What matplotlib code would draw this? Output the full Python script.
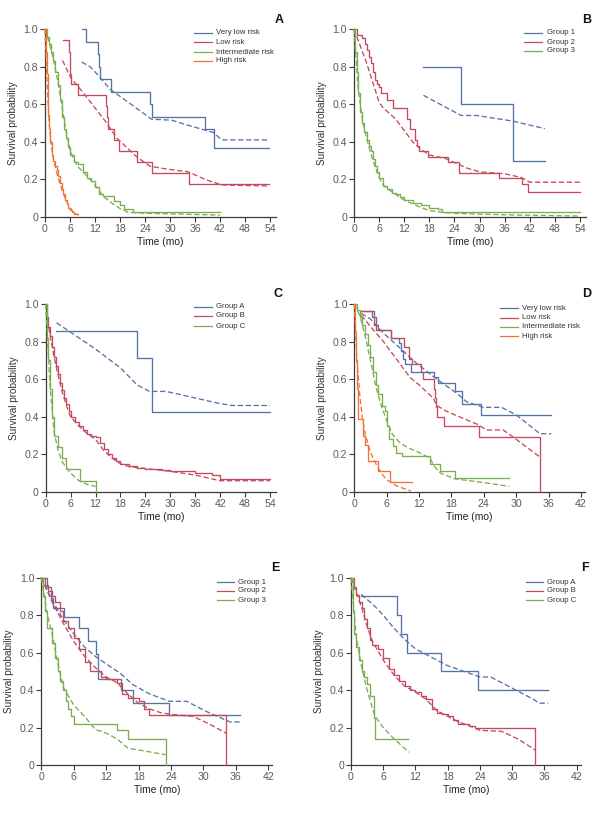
import matplotlib
matplotlib.use("Agg")
import matplotlib.pyplot as plt
from matplotlib.lines import Line2D

plt.rcParams['font.family'] = ['Liberation Sans Narrow', 'Liberation Sans', 'DejaVu Sans']

BLUE = '#5673a6'
RED = '#c44a5e'
GREEN = '#7aae4f'
ORANGE = '#f07236'

# ---------------- Panel A ----------------
A_vlow_t = [8.8, 9.8, 12.6, 13.0, 13.3, 15.8, 25.2, 25.6, 38.4, 40.6, 53.8]
A_vlow_s = [1.0, 0.933, 0.867, 0.80, 0.733, 0.667, 0.60, 0.533, 0.467, 0.367, 0.367]
A_vlow_fit_t = [8.8, 10.8, 12.5, 15.6, 20, 25.6, 30.4, 34, 40.4, 42.4, 53.8]
A_vlow_fit_s = [0.824, 0.80, 0.76, 0.68, 0.61, 0.52, 0.515, 0.49, 0.45, 0.41, 0.41]
A_low_t = [4.4, 5.8, 6.0, 6.1, 6.2, 8.0, 14.6, 14.9, 15.2, 16.6, 17.8, 22.0, 25.6, 34.6, 53.8]
A_low_s = [0.94, 0.88, 0.82, 0.76, 0.71, 0.65, 0.59, 0.53, 0.47, 0.41, 0.35, 0.29, 0.235, 0.175, 0.175]
A_low_fit_t = [4.2, 6.2, 9.2, 12, 14.8, 17.2, 22, 25.2, 29.2, 34.4, 38.4, 42.4, 53.8]
A_low_fit_s = [0.833, 0.74, 0.66, 0.58, 0.50, 0.42, 0.32, 0.27, 0.255, 0.24, 0.20, 0.17, 0.165]
A_int_t = [0, 0.5, 1, 1.5, 2, 2.5, 3, 3.5, 4, 4.5, 5, 5.5, 6, 7, 8, 9, 10, 11, 12, 13, 14,
           16.5, 18, 19, 21, 42]
A_int_s = [1.0, 0.96, 0.92, 0.88, 0.83, 0.77, 0.70, 0.62, 0.53, 0.47, 0.42, 0.37, 0.33, 0.29,
           0.28, 0.24, 0.21, 0.19, 0.16, 0.125, 0.11, 0.085, 0.065, 0.045, 0.025, 0.025]
A_int_fit_t = [0, 1, 2, 3, 4, 5, 6, 7, 8, 10, 12, 14, 16, 18, 20, 24, 30, 42]
A_int_fit_s = [1.0, 0.93, 0.84, 0.73, 0.60, 0.46, 0.36, 0.30, 0.265, 0.22, 0.17, 0.11, 0.075,
               0.045, 0.025, 0.02, 0.017, 0.01]
A_high_t = [0, 0.2, 0.4, 0.6, 0.8, 1.0, 1.3, 1.6, 2.0, 2.4, 2.8, 3.2, 3.6, 4.0, 4.4, 4.8,
            5.2, 5.6, 6.0, 6.5, 7.0, 8.0]
A_high_s = [1.0, 0.88, 0.76, 0.62, 0.54, 0.47, 0.40, 0.33, 0.30, 0.27, 0.25, 0.22, 0.18, 0.15,
            0.12, 0.09, 0.07, 0.05, 0.035, 0.025, 0.015, 0.015]
A_high_fit_t = [0, 0.5, 1, 1.5, 2, 3, 4, 5, 6, 7, 8]
A_high_fit_s = [1.0, 0.72, 0.50, 0.38, 0.31, 0.22, 0.15, 0.09, 0.05, 0.02, 0.01]

# ---------------- Panel B ----------------
B_g1_t = [16.6, 25.6, 38.0, 45.6]
B_g1_s = [0.80, 0.60, 0.30, 0.30]
B_g1_fit_t = [16.6, 25.6, 29.3, 38, 45.6]
B_g1_fit_s = [0.647, 0.54, 0.54, 0.51, 0.47]
B_g2_t = [0, 0.7, 2.0, 2.6, 3.0, 3.5, 4.0, 4.5, 5.0, 5.5, 6.0, 6.5, 8.0, 9.3, 12.7, 13.3,
          14.5, 15.0, 15.5, 17.8, 22.5, 25.0, 34.6, 40.2, 41.5, 54]
B_g2_s = [1.0, 0.97, 0.95, 0.92, 0.89, 0.85, 0.82, 0.77, 0.73, 0.71, 0.69, 0.66, 0.62, 0.58,
          0.52, 0.47, 0.41, 0.38, 0.35, 0.32, 0.29, 0.235, 0.205, 0.175, 0.135, 0.135]
B_g2_fit_t = [0, 1, 2, 3, 4, 5, 6, 7, 8, 10, 12, 14, 16, 18, 20, 22, 24, 27, 30, 36, 40, 42, 54]
B_g2_fit_s = [1.0, 0.94, 0.88, 0.82, 0.75, 0.68, 0.61, 0.58, 0.56, 0.52, 0.46, 0.40, 0.36,
              0.33, 0.32, 0.31, 0.29, 0.26, 0.24, 0.23, 0.21, 0.185, 0.185]
B_g3_t = [0, 0.3, 0.6, 1.0, 1.5, 2.0, 2.5, 3, 3.5, 4, 4.5, 5, 5.5, 6, 7, 8, 9, 10, 11, 12,
          14, 16, 18, 20, 21, 54]
B_g3_s = [1.0, 0.88, 0.77, 0.66, 0.56, 0.50, 0.45, 0.41, 0.38, 0.35, 0.31, 0.27, 0.24, 0.21,
          0.165, 0.15, 0.13, 0.12, 0.105, 0.09, 0.075, 0.065, 0.05, 0.04, 0.025, 0.025]
B_g3_fit_t = [0, 1, 2, 3, 4, 5, 6, 7, 8, 10, 12, 14, 16, 18, 21, 24, 30, 40, 54]
B_g3_fit_s = [1.0, 0.68, 0.52, 0.42, 0.34, 0.27, 0.21, 0.17, 0.15, 0.12, 0.09, 0.07, 0.05,
              0.035, 0.025, 0.02, 0.015, 0.01, 0.005]

# ---------------- Panel C ----------------
C_A_t = [2.6, 22.0, 25.7, 54]
C_A_s = [0.857, 0.714, 0.428, 0.428]
C_A_fit_t = [2.6, 6, 12, 18, 22, 25, 29, 36, 42, 45, 54]
C_A_fit_s = [0.90, 0.85, 0.76, 0.66, 0.57, 0.535, 0.535, 0.50, 0.47, 0.46, 0.46]
C_B_t = [0, 0.3, 0.6, 1, 1.5, 2, 2.5, 3, 3.5, 4, 4.5, 5, 5.5, 6, 7, 8, 9, 10, 11, 12, 13, 14,
         15, 16, 17, 18, 20, 22, 24, 26, 28, 30, 35, 36, 39, 40, 42, 54]
C_B_s = [1.0, 0.93, 0.88, 0.83, 0.77, 0.72, 0.67, 0.63, 0.58, 0.54, 0.50, 0.47, 0.43, 0.40,
         0.37, 0.35, 0.33, 0.31, 0.30, 0.29, 0.26, 0.23, 0.20, 0.18, 0.165, 0.15, 0.14, 0.13,
         0.125, 0.12, 0.115, 0.11, 0.11, 0.10, 0.10, 0.09, 0.07, 0.07]
C_B_fit_t = [0, 1, 2, 3, 4, 5, 6, 8, 10, 12, 14, 16, 18, 20, 24, 30, 36, 42, 54]
C_B_fit_s = [1.0, 0.84, 0.72, 0.62, 0.53, 0.46, 0.40, 0.35, 0.31, 0.28, 0.22, 0.18, 0.15,
             0.135, 0.125, 0.11, 0.09, 0.06, 0.06]
C_C_t = [0, 0.3, 0.6, 1.0, 1.5, 2.0, 3.0, 4.0, 5.0, 8.3, 12.0]
C_C_s = [1.0, 0.82, 0.70, 0.55, 0.40, 0.30, 0.24, 0.18, 0.12, 0.06, 0.0]
C_C_fit_t = [0, 1, 2, 3, 4, 6, 8, 10, 12]
C_C_fit_s = [1.0, 0.58, 0.32, 0.22, 0.16, 0.10, 0.06, 0.04, 0.03]

# ---------------- Panel D ----------------
D_vlow_t = [1.3, 3.6, 4.0, 4.3, 6.8, 8.2, 8.7, 9.0, 9.4, 10.5, 14.8, 15.5, 18.6, 20.0, 23.5, 36.5]
D_vlow_s = [0.964, 0.93, 0.89, 0.86, 0.82, 0.79, 0.75, 0.71, 0.68, 0.64, 0.61, 0.58, 0.535,
            0.47, 0.41, 0.41]
D_vlow_fit_t = [1.3, 3, 5.4, 8.5, 11.5, 15.3, 19, 20.8, 23.9, 27.3, 30, 34.4, 36.5]
D_vlow_fit_s = [0.95, 0.92, 0.845, 0.765, 0.685, 0.60, 0.525, 0.48, 0.45, 0.45, 0.41, 0.31, 0.31]
D_low_t = [1.3, 3.3, 3.6, 4.0, 6.8, 9.2, 10.1, 10.6, 12.3, 12.8, 14.8, 15.0, 15.2, 15.4, 16.7,
           23.1, 34.4]
D_low_s = [0.964, 0.93, 0.89, 0.86, 0.82, 0.77, 0.71, 0.68, 0.64, 0.60, 0.55, 0.50, 0.45,
           0.40, 0.35, 0.29, 0.0]
D_low_fit_t = [1.3, 3, 5.4, 8, 10.3, 12, 14.6, 15.3, 17, 22.8, 24.5, 27.6, 30, 34.2]
D_low_fit_s = [0.94, 0.88, 0.80, 0.70, 0.61, 0.57, 0.50, 0.46, 0.43, 0.36, 0.33, 0.33, 0.28, 0.19]
D_int_t = [0, 0.5, 1, 1.5, 2, 2.5, 3, 3.5, 4, 4.3, 5.1, 5.7, 6.1, 6.4, 7.1, 7.8, 8.8, 14.0,
           15.9, 18.6, 28.7]
D_int_s = [1.0, 0.97, 0.93, 0.89, 0.84, 0.78, 0.72, 0.64, 0.57, 0.52, 0.46, 0.43, 0.35, 0.28,
           0.245, 0.21, 0.19, 0.15, 0.11, 0.075, 0.075]
D_int_fit_t = [0, 1, 2, 3, 4, 5, 6, 7, 8.5, 10, 12, 14, 15, 16, 18.6, 24, 28.7]
D_int_fit_s = [1.0, 0.94, 0.83, 0.70, 0.56, 0.46, 0.38, 0.31, 0.26, 0.235, 0.21, 0.18, 0.13,
               0.10, 0.07, 0.05, 0.03]
D_high_t = [0, 0.15, 0.3, 0.5, 0.75, 1.7, 2.0, 2.6, 4.3, 6.6, 10.7]
D_high_s = [1.0, 0.85, 0.70, 0.55, 0.39, 0.30, 0.25, 0.165, 0.11, 0.055, 0.055]
D_high_fit_t = [0, 0.5, 1, 1.5, 2, 3, 4, 5, 6, 8, 10.5]
D_high_fit_s = [1.0, 0.70, 0.52, 0.39, 0.31, 0.21, 0.15, 0.10, 0.065, 0.03, 0.005]

# ---------------- Panel E ----------------
E_g1_t = [0, 1.0, 1.8, 2.2, 4.2, 7.0, 8.6, 10.2, 10.5, 14.8, 16.9, 23.7, 36.8]
E_g1_s = [1.0, 0.95, 0.89, 0.84, 0.79, 0.73, 0.66, 0.59, 0.46, 0.40, 0.33, 0.265, 0.265]
E_g1_fit_t = [0, 2, 4, 6, 8, 10, 12, 14.6, 16.9, 20, 23.7, 26.9, 30.6, 34.9, 36.8]
E_g1_fit_s = [1.0, 0.88, 0.78, 0.70, 0.63, 0.58, 0.54, 0.49, 0.43, 0.38, 0.34, 0.34, 0.285,
              0.23, 0.23]
E_g2_t = [0, 0.6, 1.2, 2, 2.6, 3.5, 4, 5, 6, 7, 8, 9, 11, 12, 14, 15, 16, 18, 19, 20, 34.2]
E_g2_s = [1.0, 0.96, 0.93, 0.90, 0.87, 0.82, 0.77, 0.73, 0.68, 0.62, 0.55, 0.50, 0.47, 0.46,
          0.44, 0.38, 0.36, 0.34, 0.30, 0.265, 0.0]
E_g2_fit_t = [0, 2, 4, 6, 8, 10, 12, 14, 16, 18, 20, 22, 24, 28, 31, 34.2]
E_g2_fit_s = [1.0, 0.87, 0.76, 0.66, 0.58, 0.52, 0.47, 0.44, 0.38, 0.33, 0.30, 0.28, 0.27,
              0.26, 0.22, 0.17]
E_g3_t = [0, 0.3, 0.6, 1.0, 2.0, 2.5, 3.0, 3.5, 4.0, 4.5, 5.0, 5.5, 6.0, 14.0, 16.0, 23.0]
E_g3_s = [1.0, 0.90, 0.82, 0.73, 0.65, 0.57, 0.50, 0.45, 0.40, 0.34, 0.30, 0.26, 0.22, 0.185,
          0.14, 0.0]
E_g3_fit_t = [0, 1, 2, 3, 4, 5, 6, 8, 10, 12, 14, 16, 20, 23]
E_g3_fit_s = [1.0, 0.82, 0.70, 0.55, 0.42, 0.37, 0.32, 0.26, 0.19, 0.17, 0.14, 0.09, 0.07, 0.055]

# ---------------- Panel F ----------------
F_A_t = [1.9, 8.5, 9.3, 10.5, 16.8, 23.7, 36.7]
F_A_s = [0.90, 0.80, 0.70, 0.60, 0.50, 0.40, 0.40]
F_A_fit_t = [1.9, 4, 6, 8, 10, 12, 14, 16, 18, 20, 22, 24, 26, 28, 30, 32, 34, 35, 36.7]
F_A_fit_s = [0.91, 0.86, 0.80, 0.73, 0.67, 0.62, 0.59, 0.56, 0.53, 0.51, 0.49, 0.47, 0.47,
             0.44, 0.41, 0.38, 0.35, 0.33, 0.33]
F_B_t = [0, 0.5, 1, 1.5, 2, 2.5, 3, 3.5, 4, 5, 6, 7, 8, 9, 10, 11, 12, 13, 14, 15, 16, 17, 18,
         19, 20, 22, 23, 24, 34.3]
F_B_s = [1.0, 0.95, 0.91, 0.87, 0.84, 0.78, 0.73, 0.67, 0.64, 0.62, 0.57, 0.51, 0.48, 0.45,
         0.42, 0.40, 0.39, 0.37, 0.35, 0.30, 0.28, 0.27, 0.26, 0.24, 0.22, 0.21, 0.20, 0.195, 0.0]
F_B_fit_t = [0, 1, 2, 3, 4, 5, 6, 8, 10, 12, 14, 16, 18, 20, 22, 24, 28, 31, 34.3]
F_B_fit_s = [1.0, 0.92, 0.84, 0.74, 0.66, 0.61, 0.56, 0.48, 0.42, 0.39, 0.35, 0.29, 0.26,
             0.23, 0.21, 0.185, 0.18, 0.14, 0.08]
F_C_t = [0, 0.3, 0.6, 1.0, 1.5, 2.0, 2.5, 3.0, 3.5, 4.3, 4.5, 10.7]
F_C_s = [1.0, 0.82, 0.70, 0.63, 0.56, 0.50, 0.47, 0.43, 0.37, 0.25, 0.14, 0.14]
F_C_fit_t = [0, 1, 2, 3, 4, 4.5, 6, 8, 10.8]
F_C_fit_s = [1.0, 0.68, 0.52, 0.40, 0.30, 0.26, 0.20, 0.14, 0.068]

W, H = 604, 816
fig = plt.figure(figsize=(W / 100, H / 100), dpi=100)


def make_axes(x0, xtick_px, xtick_max, xlim_max, top, bottom):
    scale = (xtick_px - x0) / xtick_max
    width = xlim_max * scale
    return fig.add_axes([x0 / W, 1 - bottom / H, width / W, (bottom - top) / H])


panels = [
    dict(letter='A', pos=(45, 270, 54, 55.4, 29, 217), xmax=54,
         series=[('Very low risk', BLUE, A_vlow_t, A_vlow_s, A_vlow_fit_t, A_vlow_fit_s),
                 ('Low risk', RED, A_low_t, A_low_s, A_low_fit_t, A_low_fit_s),
                 ('Intermediate risk', GREEN, A_int_t, A_int_s, A_int_fit_t, A_int_fit_s),
                 ('High risk', ORANGE, A_high_t, A_high_s, A_high_fit_t, A_high_fit_s)],
         leg=(194, 212, 216, [33, 42, 52, 61]), lab=(284, 20)),
    dict(letter='B', pos=(354, 580, 54, 55.4, 29, 217), xmax=54,
         series=[('Group 1', BLUE, B_g1_t, B_g1_s, B_g1_fit_t, B_g1_fit_s),
                 ('Group 2', RED, B_g2_t, B_g2_s, B_g2_fit_t, B_g2_fit_s),
                 ('Group 3', GREEN, B_g3_t, B_g3_s, B_g3_fit_t, B_g3_fit_s)],
         leg=(524, 542, 547, [33, 42, 51]), lab=(591, 20)),
    dict(letter='C', pos=(45.7, 270, 54, 55.4, 304, 492), xmax=54,
         series=[('Group A', BLUE, C_A_t, C_A_s, C_A_fit_t, C_A_fit_s),
                 ('Group B', RED, C_B_t, C_B_s, C_B_fit_t, C_B_fit_s),
                 ('Group C', GREEN, C_C_t, C_C_s, C_C_fit_t, C_C_fit_s)],
         leg=(194, 212, 216, [307, 316, 326]), lab=(283, 294)),
    dict(letter='D', pos=(354.3, 581, 42, 42.75, 304, 492), xmax=42,
         series=[('Very low risk', BLUE, D_vlow_t, D_vlow_s, D_vlow_fit_t, D_vlow_fit_s),
                 ('Low risk', RED, D_low_t, D_low_s, D_low_fit_t, D_low_fit_s),
                 ('Intermediate risk', GREEN, D_int_t, D_int_s, D_int_fit_t, D_int_fit_s),
                 ('High risk', ORANGE, D_high_t, D_high_s, D_high_fit_t, D_high_fit_s)],
         leg=(500, 518, 522, [308, 318, 327, 336]), lab=(591, 294)),
    dict(letter='E', pos=(41.3, 268.3, 42, 42.75, 577.7, 765), xmax=42,
         series=[('Group 1', BLUE, E_g1_t, E_g1_s, E_g1_fit_t, E_g1_fit_s),
                 ('Group 2', RED, E_g2_t, E_g2_s, E_g2_fit_t, E_g2_fit_s),
                 ('Group 3', GREEN, E_g3_t, E_g3_s, E_g3_fit_t, E_g3_fit_s)],
         leg=(217, 234, 238, [582, 591, 600]), lab=(280, 568)),
    dict(letter='F', pos=(351, 576.7, 42, 42.75, 577.7, 765), xmax=42,
         series=[('Group A', BLUE, F_A_t, F_A_s, F_A_fit_t, F_A_fit_s),
                 ('Group B', RED, F_B_t, F_B_s, F_B_fit_t, F_B_fit_s),
                 ('Group C', GREEN, F_C_t, F_C_s, F_C_fit_t, F_C_fit_s)],
         leg=(526, 543, 547, [582, 591, 600]), lab=(589, 568)),
]

AXCOL = '#3a3a3a'
TICKCOL = '#5a5a5a'

for p in panels:
    x0, xt, xtm, xlm, top, bot = p['pos']
    ax = make_axes(x0, xt, xtm, xlm, top, bot)
    for name, col, kt, ks, ft, fs in p['series']:
        ax.step(kt, ks, where='post', color=col, lw=0.95, clip_on=False, zorder=3)
        ax.plot(ft, fs, color=col, lw=0.95, linestyle=(0, (4, 2)), clip_on=False, zorder=3)
    ax.set_xlim(0, xlm)
    ax.set_ylim(0, 1.0)
    ax.set_xticks(list(range(0, p['xmax'] + 1, 6)))
    ax.set_yticks([0, 0.2, 0.4, 0.6, 0.8, 1.0])
    ax.set_yticklabels(['0', '0.2', '0.4', '0.6', '0.8', '1.0'])
    for s in ['top', 'right']:
        ax.spines[s].set_visible(False)
    for s in ['left', 'bottom']:
        ax.spines[s].set_color(AXCOL)
        ax.spines[s].set_linewidth(0.9)
    ax.tick_params(direction='out', length=3.5, width=0.8, color=AXCOL,
                   labelsize=7.6, labelcolor=TICKCOL, pad=1.5)
    ax.set_ylabel('Survival probability', fontsize=7.2, color='#333333', labelpad=4)
    ax.set_xlabel('Time (mo)', fontsize=7.4, color='#222222', labelpad=2)
    ax.patch.set_alpha(0)

    # legend
    lx0, lx1, tx, rows = p['leg']
    for (name, col, *_), ry in zip(p['series'], rows):
        fig.add_artist(Line2D([lx0 / W, lx1 / W], [1 - ry / H, 1 - ry / H],
                              transform=fig.transFigure, color=col, lw=0.9))
        fig.text(tx / W, 1 - ry / H, name, fontsize=5.6, color='#333333',
                 ha='left', va='center')
    lxp, lyp = p['lab']
    fig.text(lxp / W, 1 - lyp / H, p['letter'], fontsize=9, fontweight='bold',
             color='#111111', ha='right', va='center')

fig.savefig('out.png', dpi=100)
